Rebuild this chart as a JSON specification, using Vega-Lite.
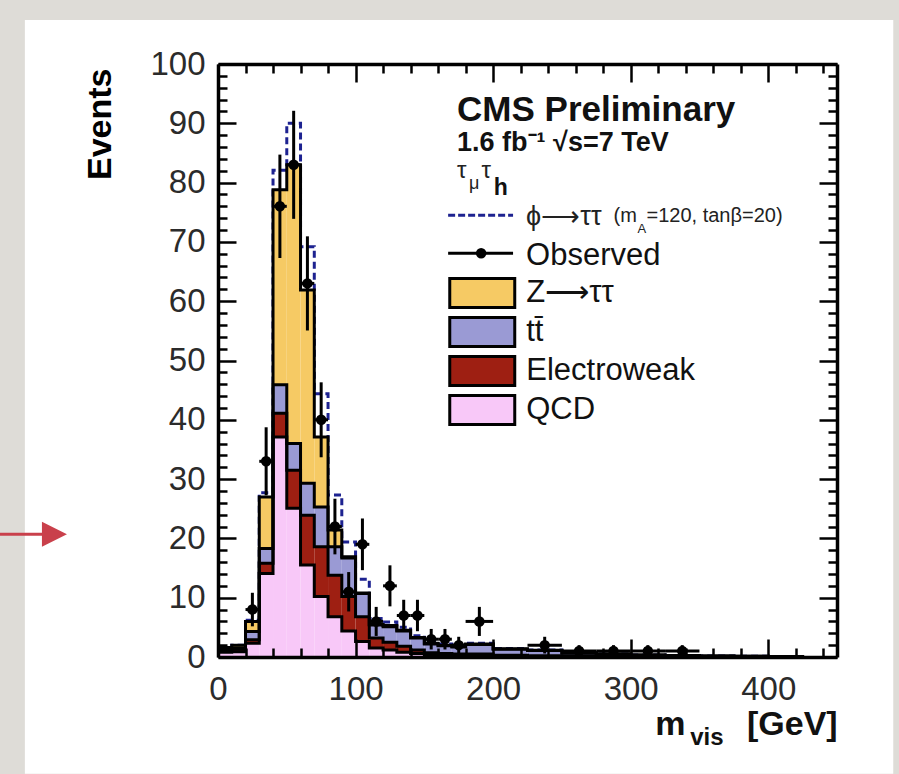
{
  "$schema": "https://vega.github.io/schema/vega-lite/v6.json",
  "width": 619,
  "height": 593,
  "autosize": {"type": "none"},
  "padding": {"left": 218, "top": 64, "right": 62, "bottom": 117},
  "background": "#dedcd7",
  "config": {"view": {"stroke": null}, "font": "Liberation Sans"},
  "datasets": {
    "hist": [
      {"lo": 0, "hi": 10, "qcd": 0.8, "ewk": 0.3, "ttbar": 0.1, "ztt": 0.4, "sig": 0},
      {"lo": 10, "hi": 20, "qcd": 0.9, "ewk": 0.4, "ttbar": 0.2, "ztt": 0.5, "sig": 0},
      {"lo": 20, "hi": 30, "qcd": 2.3, "ewk": 0.6, "ttbar": 1.4, "ztt": 1.7, "sig": 0.2},
      {"lo": 30, "hi": 40, "qcd": 14.1, "ewk": 1.7, "ttbar": 2.5, "ztt": 8.7, "sig": 0.7},
      {"lo": 40, "hi": 50, "qcd": 37.1, "ewk": 4.0, "ttbar": 4.8, "ztt": 32.9, "sig": 3.3},
      {"lo": 50, "hi": 60, "qcd": 25.1, "ewk": 6.4, "ttbar": 4.5, "ztt": 47.0, "sig": 7.0},
      {"lo": 60, "hi": 70, "qcd": 15.5, "ewk": 8.4, "ttbar": 5.4, "ztt": 32.6, "sig": 7.3},
      {"lo": 70, "hi": 80, "qcd": 10.2, "ewk": 8.4, "ttbar": 6.7, "ztt": 11.8, "sig": 7.3},
      {"lo": 80, "hi": 90, "qcd": 6.8, "ewk": 7.0, "ttbar": 4.8, "ztt": 2.8, "sig": 5.9},
      {"lo": 90, "hi": 100, "qcd": 4.4, "ewk": 5.8, "ttbar": 6.5, "ztt": 0.2, "sig": 2.5},
      {"lo": 100, "hi": 110, "qcd": 2.6, "ewk": 4.2, "ttbar": 3.9, "ztt": 0.1, "sig": 2.3},
      {"lo": 110, "hi": 120, "qcd": 1.5, "ewk": 1.7, "ttbar": 2.2, "ztt": 0.1, "sig": 1.0},
      {"lo": 120, "hi": 130, "qcd": 1.2, "ewk": 1.3, "ttbar": 2.6, "ztt": 0.2, "sig": 0.6},
      {"lo": 130, "hi": 140, "qcd": 0.8, "ewk": 1.0, "ttbar": 2.6, "ztt": 0.1, "sig": 0.5},
      {"lo": 140, "hi": 150, "qcd": 0.6, "ewk": 0.6, "ttbar": 2.0, "ztt": 0.1, "sig": 0.3},
      {"lo": 150, "hi": 160, "qcd": 0.3, "ewk": 0.4, "ttbar": 1.5, "ztt": 0.1, "sig": 0.2},
      {"lo": 160, "hi": 170, "qcd": 0.3, "ewk": 0.3, "ttbar": 1.3, "ztt": 0.1, "sig": 0.2},
      {"lo": 170, "hi": 180, "qcd": 0.2, "ewk": 0.3, "ttbar": 1.2, "ztt": 0.1, "sig": 0.1},
      {"lo": 180, "hi": 200, "qcd": 0.2, "ewk": 0.3, "ttbar": 1.6, "ztt": 0.1, "sig": 0.1},
      {"lo": 200, "hi": 225, "qcd": 0.1, "ewk": 0.2, "ttbar": 1.0, "ztt": 0.1, "sig": 0.05},
      {"lo": 225, "hi": 250, "qcd": 0.1, "ewk": 0.1, "ttbar": 0.9, "ztt": 0.05, "sig": 0.05},
      {"lo": 250, "hi": 275, "qcd": 0.05, "ewk": 0.1, "ttbar": 0.5, "ztt": 0.05, "sig": 0},
      {"lo": 275, "hi": 300, "qcd": 0.05, "ewk": 0.05, "ttbar": 0.4, "ztt": 0, "sig": 0},
      {"lo": 300, "hi": 325, "qcd": 0.02, "ewk": 0.05, "ttbar": 0.25, "ztt": 0, "sig": 0},
      {"lo": 325, "hi": 350, "qcd": 0.02, "ewk": 0.03, "ttbar": 0.2, "ztt": 0, "sig": 0},
      {"lo": 350, "hi": 375, "qcd": 0.01, "ewk": 0.02, "ttbar": 0.12, "ztt": 0, "sig": 0},
      {"lo": 375, "hi": 400, "qcd": 0.01, "ewk": 0.02, "ttbar": 0.1, "ztt": 0, "sig": 0},
      {"lo": 400, "hi": 425, "qcd": 0, "ewk": 0.01, "ttbar": 0.06, "ztt": 0, "sig": 0},
      {"lo": 425, "hi": 450, "qcd": 0, "ewk": 0.01, "ttbar": 0.05, "ztt": 0, "sig": 0}
    ],
    "obs": [
      {"lo": 20, "hi": 30, "m": 25, "n": 8, "elo": 5.17, "ehi": 10.83},
      {"lo": 30, "hi": 40, "m": 35, "n": 33, "elo": 27.26, "ehi": 38.74},
      {"lo": 40, "hi": 50, "m": 45, "n": 76, "elo": 67.28, "ehi": 84.72},
      {"lo": 50, "hi": 60, "m": 55, "n": 83, "elo": 73.89, "ehi": 92.11},
      {"lo": 60, "hi": 70, "m": 65, "n": 63, "elo": 55.06, "ehi": 70.94},
      {"lo": 70, "hi": 80, "m": 75, "n": 40, "elo": 33.68, "ehi": 46.32},
      {"lo": 80, "hi": 90, "m": 85, "n": 22, "elo": 17.31, "ehi": 26.69},
      {"lo": 90, "hi": 100, "m": 95, "n": 11, "elo": 7.68, "ehi": 14.32},
      {"lo": 100, "hi": 110, "m": 105, "n": 19, "elo": 14.64, "ehi": 23.36},
      {"lo": 110, "hi": 120, "m": 115, "n": 6, "elo": 3.55, "ehi": 8.45},
      {"lo": 120, "hi": 130, "m": 125, "n": 12, "elo": 8.54, "ehi": 15.46},
      {"lo": 130, "hi": 140, "m": 135, "n": 7, "elo": 4.35, "ehi": 9.65},
      {"lo": 140, "hi": 150, "m": 145, "n": 7, "elo": 4.35, "ehi": 9.65},
      {"lo": 150, "hi": 160, "m": 155, "n": 3, "elo": 1.27, "ehi": 4.73},
      {"lo": 160, "hi": 170, "m": 165, "n": 3, "elo": 1.27, "ehi": 4.73},
      {"lo": 170, "hi": 180, "m": 175, "n": 2, "elo": 0.59, "ehi": 3.41},
      {"lo": 180, "hi": 200, "m": 190, "n": 6, "elo": 3.55, "ehi": 8.45},
      {"lo": 225, "hi": 250, "m": 237.5, "n": 2, "elo": 0.59, "ehi": 3.41},
      {"lo": 250, "hi": 275, "m": 262.5, "n": 1, "elo": 0, "ehi": 2},
      {"lo": 275, "hi": 300, "m": 287.5, "n": 1, "elo": 0, "ehi": 2},
      {"lo": 300, "hi": 325, "m": 312.5, "n": 1, "elo": 0, "ehi": 2},
      {"lo": 325, "hi": 350, "m": 337.5, "n": 1, "elo": 0, "ehi": 2}
    ]
  },
  "resolve": {"axis": {"x": "independent", "y": "independent"}},
  "layer": [
    {
      "description": "white page behind the figure",
      "data": {"values": [{}]},
      "mark": {"type": "rect", "color": "white"},
      "encoding": {
        "x": {"datum": -140.4, "type": "quantitative", "scale": {"domain": [0, 450], "nice": false}, "axis": null},
        "x2": {"datum": 490.9},
        "y": {"datum": -19.7, "type": "quantitative", "scale": {"domain": [0, 100], "nice": false}, "axis": null},
        "y2": {"datum": 107.4}
      }
    },
    {
      "description": "signal expectation stacked on the background, dashed outline",
      "data": {"name": "hist"},
      "transform": [
        {"fold": ["qcd", "ewk", "ttbar", "ztt", "sig"], "as": ["key", "val"]},
        {"stack": "val", "groupby": ["lo"], "as": ["y0", "y1"]},
        {"filter": "datum.key === 'sig'"}
      ],
      "mark": {"type": "line", "interpolate": "step-after", "color": "#1d2290", "strokeWidth": 3, "strokeDash": [7, 4]},
      "encoding": {
        "x": {"field": "lo", "type": "quantitative", "scale": {"domain": [0, 450], "nice": false}, "axis": null},
        "y": {"field": "y1", "type": "quantitative", "scale": {"domain": [0, 100], "nice": false}, "axis": null}
      }
    },
    {
      "description": "stacked background fills",
      "data": {"name": "hist"},
      "transform": [
        {"fold": ["qcd", "ewk", "ttbar", "ztt", "sig"], "as": ["key", "val"]},
        {"stack": "val", "groupby": ["lo"], "as": ["y0", "y1"]},
        {"filter": "datum.key !== 'sig'"}
      ],
      "mark": {"type": "rect"},
      "encoding": {
        "x": {
          "field": "lo", "type": "quantitative",
          "scale": {"domain": [0, 450], "nice": false},
          "axis": {
            "orient": "bottom", "zindex": 2,
            "values": [0, 20, 40, 60, 80, 100, 120, 140, 160, 180, 200, 220, 240, 260, 280, 300, 320, 340, 360, 380, 400, 420, 440],
            "tickSize": {"condition": {"test": "datum.value % 100 === 0", "value": -18}, "value": -9},
            "tickWidth": 2.5, "tickColor": "black",
            "domainColor": "black", "domainWidth": 3.5,
            "labelExpr": "datum.value % 100 === 0 ? datum.label : ''",
            "labelFontSize": 33, "labelColor": "#2b2b2b", "labelPadding": 34,
            "labelOverlap": false, "labelFlush": false,
            "grid": false, "title": null
          }
        },
        "x2": {"field": "hi"},
        "y": {
          "field": "y1", "type": "quantitative",
          "scale": {"domain": [0, 100], "nice": false},
          "axis": {
            "orient": "left", "zindex": 2,
            "values": [0, 2, 4, 6, 8, 10, 12, 14, 16, 18, 20, 22, 24, 26, 28, 30, 32, 34, 36, 38, 40, 42, 44, 46, 48, 50, 52, 54, 56, 58, 60, 62, 64, 66, 68, 70, 72, 74, 76, 78, 80, 82, 84, 86, 88, 90, 92, 94, 96, 98, 100],
            "tickSize": {"condition": {"test": "datum.value % 10 === 0", "value": -18}, "value": -9},
            "tickWidth": 2.5, "tickColor": "black",
            "domainColor": "black", "domainWidth": 3.5,
            "labelExpr": "datum.value % 10 === 0 ? datum.label : ''",
            "labelFontSize": 33, "labelColor": "#2b2b2b", "labelPadding": 31,
            "labelOverlap": false, "labelFlush": false,
            "grid": false,
            "title": "Events", "titleFontSize": 34, "titleFontWeight": "bold", "titleColor": "black",
            "titleAngle": 270, "titleAlign": "right", "titleBaseline": "middle",
            "titleX": -118, "titleY": 4
          }
        },
        "y2": {"field": "y0"},
        "color": {
          "field": "key", "type": "nominal",
          "scale": {"domain": ["ztt", "ttbar", "ewk", "qcd"], "range": ["#f6ca64", "#9a9ad4", "#9e1f12", "#f8c8f8"]},
          "legend": {
            "orient": "none", "legendX": 246.25, "legendY": 211, "padding": 0,
            "title": null,
            "symbolType": "M-2,-0.9H2V0.9H-2Z", "symbolSize": 1056,
            "symbolStrokeColor": "black", "symbolStrokeWidth": 3, "symbolOpacity": 1,
            "labelExpr": "{'ztt': 'Z⟶ττ', 'ttbar': 'tt̄', 'ewk': 'Electroweak', 'qcd': 'QCD'}[datum.label]",
            "labelFontSize": 31, "labelColor": "#111", "labelOffset": 26, "labelLimit": 400,
            "rowPadding": -3
          }
        }
      }
    },
    {
      "description": "black step outline of each cumulative background",
      "data": {"name": "hist"},
      "transform": [
        {"fold": ["qcd", "ewk", "ttbar", "ztt", "sig"], "as": ["key", "val"]},
        {"stack": "val", "groupby": ["lo"], "as": ["y0", "y1"]},
        {"filter": "datum.key !== 'sig'"}
      ],
      "mark": {"type": "line", "interpolate": "step-after", "color": "black", "strokeWidth": 3},
      "encoding": {
        "x": {
          "field": "lo", "type": "quantitative",
          "scale": {"domain": [0, 450], "nice": false},
          "axis": {
            "orient": "top", "zindex": 2,
            "values": [0, 20, 40, 60, 80, 100, 120, 140, 160, 180, 200, 220, 240, 260, 280, 300, 320, 340, 360, 380, 400, 420, 440],
            "tickSize": {"condition": {"test": "datum.value % 100 === 0", "value": -18}, "value": -9},
            "tickWidth": 2.5, "tickColor": "black",
            "domainColor": "black", "domainWidth": 3.5,
            "labels": false, "grid": false, "title": null
          }
        },
        "y": {
          "field": "y1", "type": "quantitative",
          "scale": {"domain": [0, 100], "nice": false},
          "axis": {
            "orient": "right", "zindex": 2,
            "values": [0, 2, 4, 6, 8, 10, 12, 14, 16, 18, 20, 22, 24, 26, 28, 30, 32, 34, 36, 38, 40, 42, 44, 46, 48, 50, 52, 54, 56, 58, 60, 62, 64, 66, 68, 70, 72, 74, 76, 78, 80, 82, 84, 86, 88, 90, 92, 94, 96, 98, 100],
            "tickSize": {"condition": {"test": "datum.value % 10 === 0", "value": -18}, "value": -9},
            "tickWidth": 2.5, "tickColor": "black",
            "domainColor": "black", "domainWidth": 3.5,
            "labels": false, "grid": false, "title": null
          }
        },
        "detail": {"field": "key"}
      }
    },
    {
      "description": "observed: horizontal bin-width bars",
      "data": {"name": "obs"},
      "mark": {"type": "rule", "color": "black", "strokeWidth": 3},
      "encoding": {
        "x": {"field": "lo", "type": "quantitative", "scale": {"domain": [0, 450], "nice": false}, "axis": null},
        "x2": {"field": "hi"},
        "y": {"field": "n", "type": "quantitative", "scale": {"domain": [0, 100], "nice": false}, "axis": null}
      }
    },
    {
      "description": "observed: Poisson error bars",
      "data": {"name": "obs"},
      "mark": {"type": "rule", "color": "black", "strokeWidth": 3},
      "encoding": {
        "x": {"field": "m", "type": "quantitative", "scale": {"domain": [0, 450], "nice": false}, "axis": null},
        "y": {"field": "elo", "type": "quantitative", "scale": {"domain": [0, 100], "nice": false}, "axis": null},
        "y2": {"field": "ehi"}
      }
    },
    {
      "description": "observed: markers",
      "data": {"name": "obs"},
      "mark": {"type": "point", "shape": "circle", "filled": true, "color": "black", "opacity": 1, "size": 110},
      "encoding": {
        "x": {"field": "m", "type": "quantitative", "scale": {"domain": [0, 450], "nice": false}, "axis": null},
        "y": {"field": "n", "type": "quantitative", "scale": {"domain": [0, 100], "nice": false}, "axis": null}
      }
    },
    {
      "data": {"values": [{}]},
      "mark": {"type": "text", "text": "CMS Preliminary", "fontSize": 35, "fontWeight": "bold", "align": "left", "baseline": "alphabetic", "color": "#111"},
      "encoding": {
        "x": {"datum": 173.8, "type": "quantitative", "scale": {"domain": [0, 450], "nice": false}, "axis": null},
        "y": {"datum": 90.4, "type": "quantitative", "scale": {"domain": [0, 100], "nice": false}, "axis": null}
      }
    },
    {
      "data": {"values": [{}]},
      "mark": {"type": "text", "text": "1.6 fb⁻¹ √s=7 TeV", "fontSize": 27, "fontWeight": "bold", "align": "left", "baseline": "alphabetic", "color": "#111"},
      "encoding": {
        "x": {"datum": 173.8, "type": "quantitative", "scale": {"domain": [0, 450], "nice": false}, "axis": null},
        "y": {"datum": 85.3, "type": "quantitative", "scale": {"domain": [0, 100], "nice": false}, "axis": null}
      }
    },
    {
      "data": {"values": [{}]},
      "mark": {"type": "text", "text": "τ", "fontSize": 24, "align": "left", "baseline": "alphabetic", "color": "#222"},
      "encoding": {
        "x": {"datum": 173.8, "type": "quantitative", "scale": {"domain": [0, 450], "nice": false}, "axis": null},
        "y": {"datum": 80.8, "type": "quantitative", "scale": {"domain": [0, 100], "nice": false}, "axis": null}
      }
    },
    {
      "data": {"values": [{}]},
      "mark": {"type": "text", "text": "μ", "fontSize": 18, "align": "left", "baseline": "alphabetic", "color": "#222"},
      "encoding": {
        "x": {"datum": 182.5, "type": "quantitative", "scale": {"domain": [0, 450], "nice": false}, "axis": null},
        "y": {"datum": 79.0, "type": "quantitative", "scale": {"domain": [0, 100], "nice": false}, "axis": null}
      }
    },
    {
      "data": {"values": [{}]},
      "mark": {"type": "text", "text": "τ", "fontSize": 24, "align": "left", "baseline": "alphabetic", "color": "#222"},
      "encoding": {
        "x": {"datum": 191.5, "type": "quantitative", "scale": {"domain": [0, 450], "nice": false}, "axis": null},
        "y": {"datum": 80.8, "type": "quantitative", "scale": {"domain": [0, 100], "nice": false}, "axis": null}
      }
    },
    {
      "data": {"values": [{}]},
      "mark": {"type": "text", "text": "h", "fontSize": 23, "fontWeight": "bold", "align": "left", "baseline": "alphabetic", "color": "#111"},
      "encoding": {
        "x": {"datum": 200.5, "type": "quantitative", "scale": {"domain": [0, 450], "nice": false}, "axis": null},
        "y": {"datum": 77.9, "type": "quantitative", "scale": {"domain": [0, 100], "nice": false}, "axis": null}
      }
    },
    {
      "description": "legend sample: signal",
      "data": {"values": [{}]},
      "mark": {"type": "rule", "color": "#1d2290", "strokeWidth": 3, "strokeDash": [7, 3]},
      "encoding": {
        "x": {"datum": 167.3, "type": "quantitative", "scale": {"domain": [0, 450], "nice": false}, "axis": null},
        "x2": {"datum": 214.5},
        "y": {"datum": 74.5, "type": "quantitative", "scale": {"domain": [0, 100], "nice": false}, "axis": null}
      }
    },
    {
      "data": {"values": [{}]},
      "mark": {"type": "text", "text": "ϕ⟶ττ", "fontSize": 27, "align": "left", "baseline": "alphabetic", "color": "#222"},
      "encoding": {
        "x": {"datum": 224.0, "type": "quantitative", "scale": {"domain": [0, 450], "nice": false}, "axis": null},
        "y": {"datum": 72.9, "type": "quantitative", "scale": {"domain": [0, 100], "nice": false}, "axis": null}
      }
    },
    {
      "data": {"values": [{}]},
      "mark": {"type": "text", "text": "(m", "fontSize": 20, "align": "left", "baseline": "alphabetic", "color": "#222"},
      "encoding": {
        "x": {"datum": 287.5, "type": "quantitative", "scale": {"domain": [0, 450], "nice": false}, "axis": null},
        "y": {"datum": 73.3, "type": "quantitative", "scale": {"domain": [0, 100], "nice": false}, "axis": null}
      }
    },
    {
      "data": {"values": [{}]},
      "mark": {"type": "text", "text": "A", "fontSize": 13, "align": "left", "baseline": "alphabetic", "color": "#222"},
      "encoding": {
        "x": {"datum": 305.0, "type": "quantitative", "scale": {"domain": [0, 450], "nice": false}, "axis": null},
        "y": {"datum": 71.5, "type": "quantitative", "scale": {"domain": [0, 100], "nice": false}, "axis": null}
      }
    },
    {
      "data": {"values": [{}]},
      "mark": {"type": "text", "text": "=120, tanβ=20)", "fontSize": 20, "align": "left", "baseline": "alphabetic", "color": "#222"},
      "encoding": {
        "x": {"datum": 311.5, "type": "quantitative", "scale": {"domain": [0, 450], "nice": false}, "axis": null},
        "y": {"datum": 73.3, "type": "quantitative", "scale": {"domain": [0, 100], "nice": false}, "axis": null}
      }
    },
    {
      "description": "legend sample: observed",
      "data": {"values": [{}]},
      "mark": {"type": "rule", "color": "black", "strokeWidth": 3},
      "encoding": {
        "x": {"datum": 167.3, "type": "quantitative", "scale": {"domain": [0, 450], "nice": false}, "axis": null},
        "x2": {"datum": 214.5},
        "y": {"datum": 68.1, "type": "quantitative", "scale": {"domain": [0, 100], "nice": false}, "axis": null}
      }
    },
    {
      "data": {"values": [{}]},
      "mark": {"type": "point", "shape": "circle", "filled": true, "color": "black", "opacity": 1, "size": 110},
      "encoding": {
        "x": {"datum": 191.3, "type": "quantitative", "scale": {"domain": [0, 450], "nice": false}, "axis": null},
        "y": {"datum": 68.1, "type": "quantitative", "scale": {"domain": [0, 100], "nice": false}, "axis": null}
      }
    },
    {
      "data": {"values": [{}]},
      "mark": {"type": "text", "text": "Observed", "fontSize": 31, "align": "left", "baseline": "alphabetic", "color": "#111"},
      "encoding": {
        "x": {"datum": 224.0, "type": "quantitative", "scale": {"domain": [0, 450], "nice": false}, "axis": null},
        "y": {"datum": 66.1, "type": "quantitative", "scale": {"domain": [0, 100], "nice": false}, "axis": null}
      }
    },
    {
      "description": "x-axis title pieces: m, subscript vis, unit",
      "data": {"values": [{}]},
      "mark": {"type": "text", "text": "m", "fontSize": 34, "fontWeight": "bold", "align": "left", "baseline": "alphabetic", "color": "#111"},
      "encoding": {
        "x": {"datum": 317.8, "type": "quantitative", "scale": {"domain": [0, 450], "nice": false}, "axis": null},
        "y": {"datum": -13.2, "type": "quantitative", "scale": {"domain": [0, 100], "nice": false}, "axis": null}
      }
    },
    {
      "data": {"values": [{}]},
      "mark": {"type": "text", "text": "vis", "fontSize": 24, "fontWeight": "bold", "align": "left", "baseline": "alphabetic", "color": "#111"},
      "encoding": {
        "x": {"datum": 343.3, "type": "quantitative", "scale": {"domain": [0, 450], "nice": false}, "axis": null},
        "y": {"datum": -14.9, "type": "quantitative", "scale": {"domain": [0, 100], "nice": false}, "axis": null}
      }
    },
    {
      "data": {"values": [{}]},
      "mark": {"type": "text", "text": "[GeV]", "fontSize": 34, "fontWeight": "bold", "align": "right", "baseline": "alphabetic", "color": "#111"},
      "encoding": {
        "x": {"datum": 450.5, "type": "quantitative", "scale": {"domain": [0, 450], "nice": false}, "axis": null},
        "y": {"datum": -13.2, "type": "quantitative", "scale": {"domain": [0, 100], "nice": false}, "axis": null}
      }
    },
    {
      "description": "red pointer at the 20-event level",
      "data": {"values": [{}]},
      "mark": {"type": "rule", "color": "#c9404b", "strokeWidth": 3},
      "encoding": {
        "x": {"datum": -158.5, "type": "quantitative", "scale": {"domain": [0, 450], "nice": false}, "axis": null},
        "x2": {"datum": -122},
        "y": {"datum": 20.7, "type": "quantitative", "scale": {"domain": [0, 100], "nice": false}, "axis": null}
      }
    },
    {
      "data": {"values": [{}]},
      "mark": {"type": "point", "shape": "M-1,-1L1,0L-1,1Z", "filled": true, "color": "#c9404b", "opacity": 1, "size": 625},
      "encoding": {
        "x": {"datum": -118.9, "type": "quantitative", "scale": {"domain": [0, 450], "nice": false}, "axis": null},
        "y": {"datum": 20.7, "type": "quantitative", "scale": {"domain": [0, 100], "nice": false}, "axis": null}
      }
    }
  ]
}
